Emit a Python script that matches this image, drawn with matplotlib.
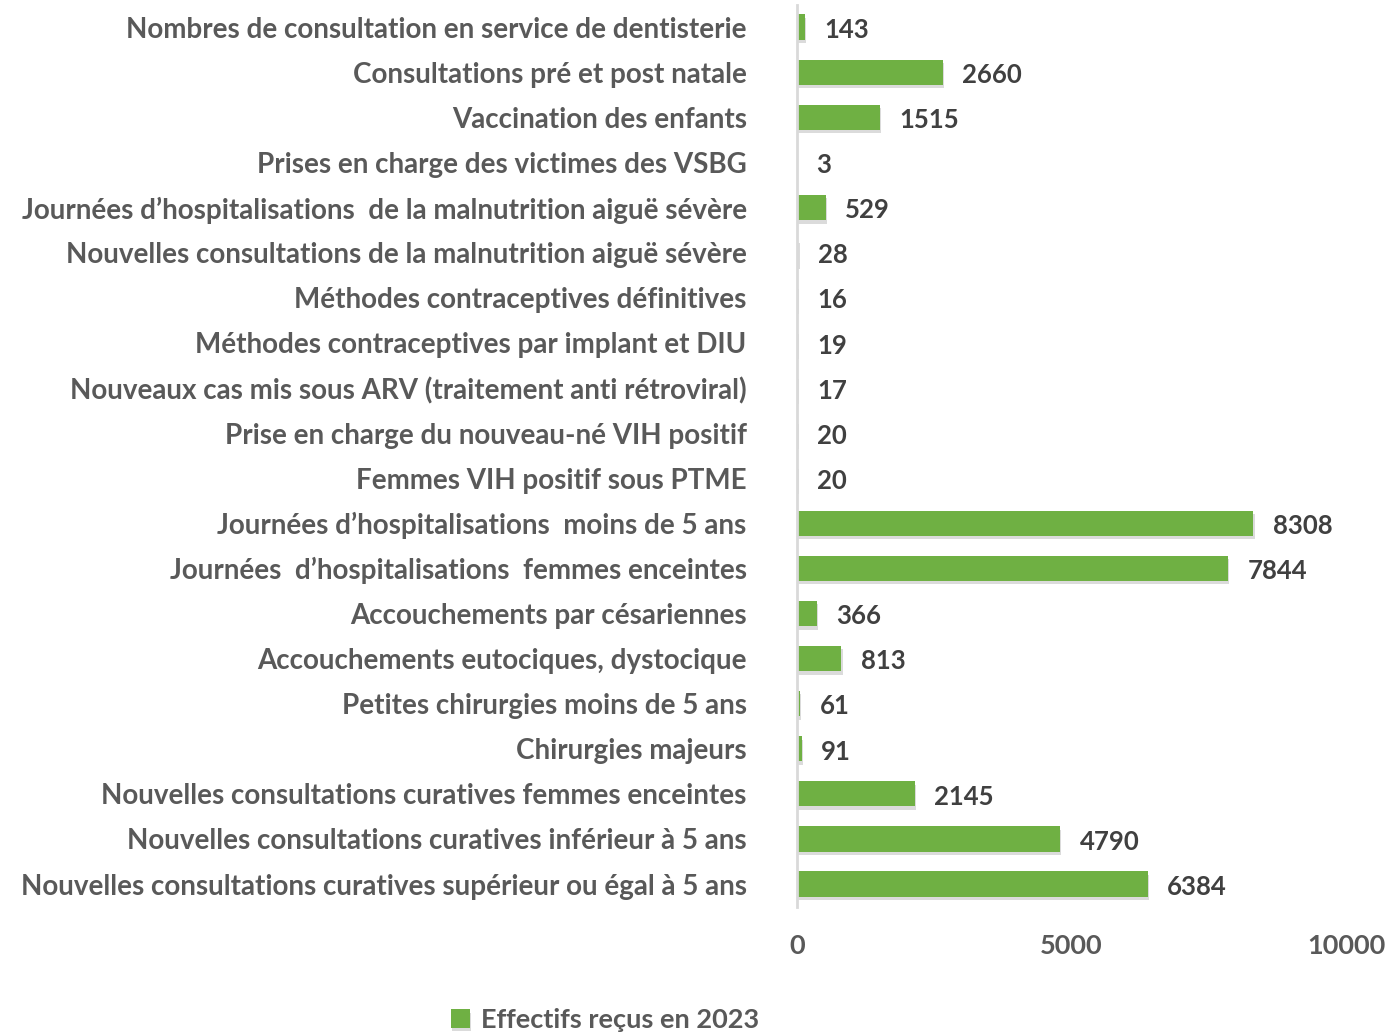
import matplotlib.pyplot as plt
import matplotlib.patheffects as pe

plt.rcParams['font.family'] = ['Lato', 'DejaVu Sans']

categories = [
    "Nouvelles consultations curatives supérieur ou égal à 5 ans",
    "Nouvelles consultations curatives inférieur à 5 ans",
    "Nouvelles consultations curatives femmes enceintes",
    "Chirurgies majeurs",
    "Petites chirurgies moins de 5 ans",
    "Accouchements eutociques, dystocique",
    "Accouchements par césariennes",
    "Journées  d\u2019hospitalisations  femmes enceintes",
    "Journées d\u2019hospitalisations  moins de 5 ans",
    "Femmes VIH positif sous PTME",
    "Prise en charge du nouveau-né VIH positif",
    "Nouveaux cas mis sous ARV (traitement anti rétroviral)",
    "Méthodes contraceptives par implant et DIU",
    "Méthodes contraceptives définitives",
    "Nouvelles consultations de la malnutrition aiguë sévère",
    "Journées d\u2019hospitalisations  de la malnutrition aiguë sévère",
    "Prises en charge des victimes des VSBG",
    "Vaccination des enfants",
    "Consultations pré et post natale",
    "Nombres de consultation en service de dentisterie",
]
values = [6384, 4790, 2145, 91, 61, 813, 366, 7844, 8308, 20, 20, 17, 19, 16, 28, 529, 3, 1515, 2660, 143]
xticks = [0, 5000, 10000]

label_col = '#595959'
value_col = '#404040'
bar_col = '#6FB043'

fig = plt.figure(figsize=(13.88, 10.34), dpi=100)
ax = fig.add_axes([0.574, 0.1232, 0.396, 0.8724])

y = range(len(categories))
bars = ax.barh(y, values, height=0.56, color=bar_col)
for b in bars:
    b.set_path_effects([pe.SimplePatchShadow(offset=(1, -2.5), shadow_rgbFace='#888888', alpha=0.3), pe.Normal()])

for yi, v in zip(y, values):
    ax.annotate(str(v), (v, yi), xytext=(14, -2), textcoords='offset points',
                va='center', ha='left', fontsize=18.5, fontweight='bold', color=value_col)

ax.set_xlim(0, 10000)
ax.set_ylim(-0.5, len(categories) - 0.5)
ax.set_yticks(list(y))
ax.set_yticklabels(categories, fontsize=20, fontweight='bold', color=label_col)
ax.set_xticks(xticks)
ax.set_xticklabels([str(t) for t in xticks], fontsize=19.5, fontweight='bold', color=label_col)
ax.tick_params(axis='y', length=0, pad=36)
ax.tick_params(axis='x', length=0, pad=20)

for s in ['top', 'right', 'bottom']:
    ax.spines[s].set_visible(False)
ax.spines['left'].set_color('#D9D9D9')
ax.spines['left'].set_linewidth(2)

leg = fig.legend([bars[0]], ['Effectifs reçus en 2023'], loc='center',
                 bbox_to_anchor=(605 / 1388, 1 - 1020 / 1034), frameon=False,
                 handlelength=0.7, handleheight=0.7, handletextpad=0.4,
                 prop={'size': 19.5, 'weight': 'bold'})
for t in leg.get_texts():
    t.set_color(label_col)

fig.savefig('out.png', dpi=100)
